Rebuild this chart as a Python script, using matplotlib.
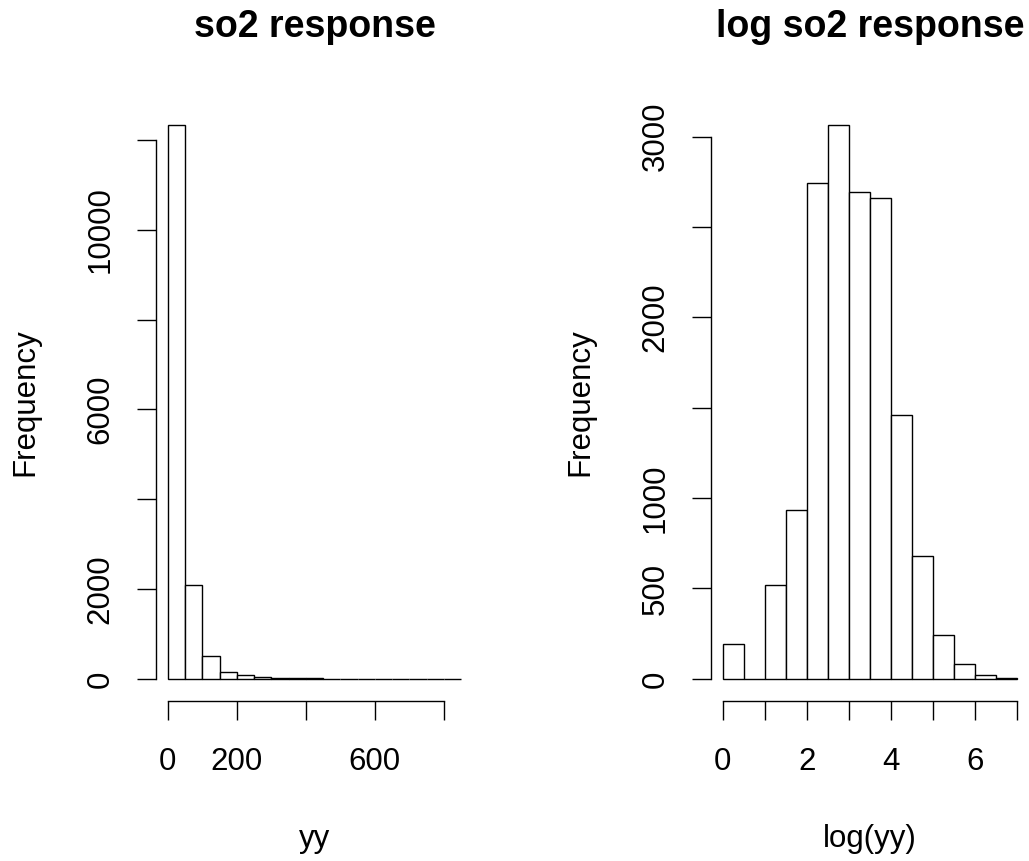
import numpy as np
import matplotlib
matplotlib.use("Agg")
import matplotlib.pyplot as plt

plt.rcParams['font.family'] = ['Liberation Sans', 'DejaVu Sans']

# --------------------------
# Histogram data
# --------------------------
so2_breaks = np.arange(0, 900, 50)          # 0 .. 850
so2_counts = [12330, 2100, 515, 160, 82, 38, 20, 12, 8, 6, 4, 3, 2, 2, 1, 1, 1]

log_breaks = np.arange(0, 7.5, 0.5)         # 0 .. 7
log_counts = [195, 0, 520, 932, 2742, 3063, 2691, 2662, 1459, 681, 245, 80, 22, 5]

so2_xticks = [0, 200, 400, 600, 800]
so2_xlabels = ['0', '200', '', '600', '']
so2_yticks = [0, 2000, 4000, 6000, 8000, 10000, 12000]
so2_ylabels = ['0', '2000', '', '6000', '', '10000', '']

log_xticks = [0, 1, 2, 3, 4, 5, 6, 7]
log_xlabels = ['0', '', '2', '', '4', '', '6', '']
log_yticks = [0, 500, 1000, 1500, 2000, 2500, 3000]
log_ylabels = ['0', '500', '1000', '', '2000', '', '3000']

W, H = 1029, 861
FS = 22.5
TICKLEN = 14


def px_axes(fig, x0, x1, top, bottom):
    return fig.add_axes([x0 / W, 1 - bottom / H, (x1 - x0) / W, (bottom - top) / H])


def r_hist(ax, breaks, counts, xticks, xlabels, yticks, ylabels):
    widths = np.diff(breaks)
    ax.bar(breaks[:-1], counts, width=widths, align='edge', color='white',
           edgecolor='black', linewidth=1.0)
    xr = breaks[-1] - breaks[0]
    ax.set_xlim(breaks[0] - 0.04 * xr, breaks[-1] + 0.04 * xr)
    ymax = max(counts)
    ax.set_ylim(-0.04 * ymax, 1.04 * ymax)
    for s in ['top', 'right']:
        ax.spines[s].set_visible(False)
    ax.spines['bottom'].set_bounds(xticks[0], xticks[-1])
    ax.spines['left'].set_bounds(yticks[0], yticks[-1])
    for s in ['bottom', 'left']:
        ax.spines[s].set_linewidth(1.0)
    ax.set_xticks(xticks)
    ax.set_xticklabels(xlabels)
    ax.set_yticks(yticks)
    ax.set_yticklabels(ylabels, rotation=90, va='center')
    ax.tick_params(axis='both', direction='out', length=TICKLEN, width=1.0,
                   labelsize=FS)
    ax.tick_params(axis='x', pad=19)
    ax.tick_params(axis='y', pad=15)


fig = plt.figure(figsize=(W / 100, H / 100), dpi=100)

ax1 = px_axes(fig, 156, 473, 103, 701)
r_hist(ax1, so2_breaks, so2_counts, so2_xticks, so2_xlabels, so2_yticks, so2_ylabels)

ax2 = px_axes(fig, 711, 1029, 103, 701)
r_hist(ax2, log_breaks, log_counts, log_xticks, log_xlabels, log_yticks, log_ylabels)

# titles and axis labels
for x0, x1, title, xlab in [(156, 473, 'so2 response', 'yy'),
                            (711, 1029, 'log so2 response', 'log(yy)')]:
    xc = (x0 + x1) / 2 / W
    fig.text(xc, 1 - 37 / H, title, ha='center', va='baseline',
             fontsize=27, fontweight='bold')
    fig.text(xc, 1 - 847 / H, xlab, ha='center', va='baseline', fontsize=FS)
    fig.text((x0 - 123) / W, 1 - 402 / H, 'Frequency', ha='center',
             va='baseline', rotation=90, rotation_mode='anchor', fontsize=FS)

fig.savefig('out.png', dpi=100)
